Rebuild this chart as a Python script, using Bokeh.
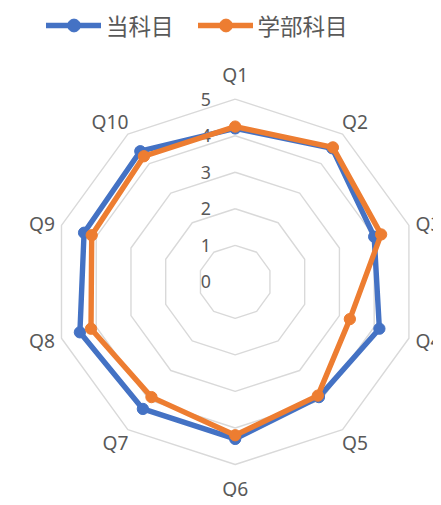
import math
from bokeh.plotting import figure
from bokeh.models import Range1d, ColumnDataSource, Legend, LegendItem
from bokeh.core.properties import value
from bokeh.embed import file_html
from bokeh.resources import INLINE

# ---- data ----
categories = ["Q1", "Q2", "Q3", "Q4", "Q5", "Q6", "Q7", "Q8", "Q9", "Q10"]
series_names = ["当科目", "学部科目"]
this_course = [4.2, 4.52, 4.0, 4.15, 3.9, 4.3, 4.3, 4.47, 4.35, 4.42]
faculty_courses = [4.25, 4.55, 4.2, 3.3, 3.85, 4.2, 3.9, 4.15, 4.13, 4.25]
tick_values = [0, 1, 2, 3, 4, 5]
tick_labels = ["0", "1", "2", "3", "4", "5"]

# ---- style / layout ----
W, H = 433, 497
K = 0.982                 # fit 441x505 layout into the 433x497 frame
CX, CY = 239.0 * K, 286.5 * K
S = 37.2 * K              # px per unit
BLUE, ORANGE = "#4472C4", "#ED7D31"
TXT = "#595959"
GRID = "#D9D9D9"
LATIN = "Noto Sans"
CJK = "Noto Sans CJK JP"

p = figure(width=W, height=H, output_backend="svg", toolbar_location=None,
           x_axis_type=None, y_axis_type=None, min_border=0,
           x_range=Range1d(-CX / S, (W - CX) / S),
           y_range=Range1d(-(H - CY) / S, CY / S))
p.grid.visible = False
p.outline_line_color = None
p.background_fill_color = "white"
p.border_fill_color = "white"

n = len(categories)
angles = [2 * math.pi * i / n for i in range(n)]

def pts(vals):
    xs = [v * math.sin(a) for v, a in zip(vals, angles)]
    ys = [v * math.cos(a) for v, a in zip(vals, angles)]
    return xs, ys

# grid decagons
gx, gy = [], []
for lv in tick_values[1:]:
    xs, ys = pts([lv] * n)
    gx.append(xs + xs[:1])
    gy.append(ys + ys[:1])
p.multi_line(gx, gy, line_color=GRID, line_width=1.4)

# tick labels
p.text(x=[0] * len(tick_values), y=tick_values, text=tick_labels,
       x_offset=-30 * K, text_align="center", text_baseline="middle",
       text_font=value(LATIN), text_font_size="17.8px", text_color=TXT)

# category labels
lx, ly, la, lb = [], [], [], []
for lab, a in zip(categories, angles):
    s, c = math.sin(a), math.cos(a)
    ax = "left" if s > 0.3 else ("right" if s < -0.3 else "center")
    ay = "bottom" if c > 0.5 else ("top" if c < -0.5 else "middle")
    if ax == "center":
        r = 5.3
    elif ay == "middle":
        r = 5.19
    else:
        r = 4.97
    lx.append(r * s); ly.append(r * c); la.append(ax); lb.append(ay)
lsrc = ColumnDataSource(dict(x=lx, y=ly, t=categories, a=la, b=lb))
p.text(x="x", y="y", text="t", text_align="a", text_baseline="b", source=lsrc,
       text_font=value(LATIN), text_font_size="19.2px", text_color=TXT)

# series
items = []
for name, vals, col in [(series_names[0], this_course, BLUE),
                        (series_names[1], faculty_courses, ORANGE)]:
    xs, ys = pts(vals)
    lr = p.line(xs + xs[:1], ys + ys[:1], line_color=col, line_width=5.4,
                line_join="round", line_cap="round")
    sr = p.scatter(xs, ys, size=11.3, fill_color=col, line_color=col)
    items.append(LegendItem(label=name, renderers=[lr, sr]))

legend = Legend(items=items, orientation="horizontal", location=(46, 456),
                glyph_width=55, glyph_height=32, label_standoff=5, spacing=24,
                padding=0, margin=0, border_line_color=None,
                background_fill_alpha=0,
                label_text_font=CJK, label_text_font_size="22.5px",
                label_text_color=TXT)
p.add_layout(legend)

open("out.html", "w").write(file_html(p, INLINE))
